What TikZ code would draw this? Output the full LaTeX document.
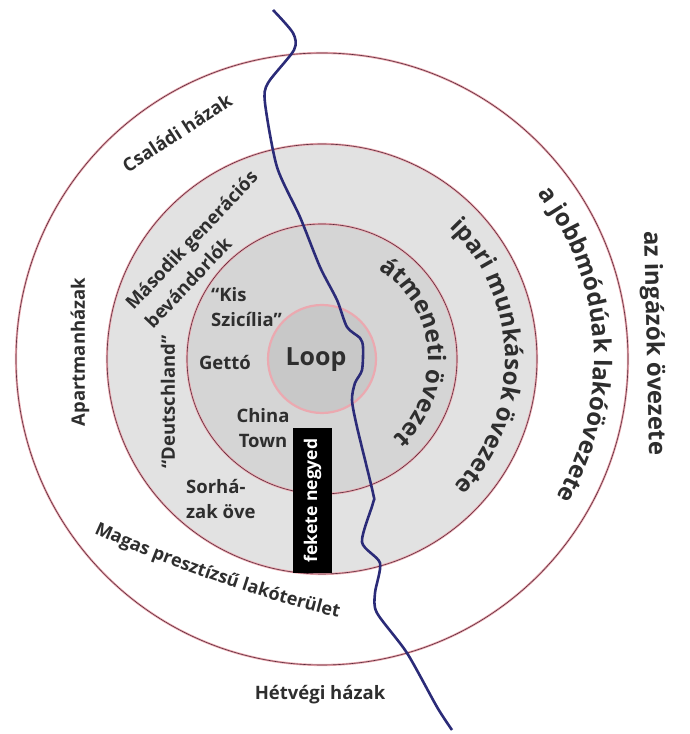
\documentclass[tikz,border=0pt]{standalone}
\usepackage{fontspec}
\setmainfont{Open Sans}
\usetikzlibrary{decorations.text}
\definecolor{ringline}{HTML}{5C2B3B}
\definecolor{ringglow}{HTML}{EBA9B0}
\definecolor{rivercol}{HTML}{2B2B78}
\definecolor{zoneA}{HTML}{E2E2E2}
\definecolor{zoneB}{HTML}{D5D5D5}
\definecolor{zoneC}{HTML}{C8C8C8}
\definecolor{ink}{HTML}{2E2E2E}
\begin{document}
\begin{tikzpicture}[x=1pt,y=1pt,
	ring/.style={draw=ringglow,line width=2.2pt,postaction={draw=ringline,line width=0.6pt}},
	lbl/.style={text=ink,font=\bfseries\fontsize{18.5}{24.5}\selectfont,inner sep=0pt},
	arctxt/.style={decorate,decoration={text along path,text align=center,text color=ink}}]
	\useasboundingbox (0,0) rectangle (689,734);
	\coordinate (c) at (322,375);
	\fill[zoneA] (c) circle (215);
	\fill[zoneB] (c) circle (135);
	\fill[zoneC] (c) circle (54);
	\draw[ring] (c) circle (306);
	\draw[ring] (c) circle (215);
	\draw[ring] (c) circle (135);
	\draw[ringglow,line width=2.2pt] (c) circle (54);
	% river
	\draw[rivercol,line width=2.6pt] plot[smooth,tension=0.45] coordinates {(273,724) (293,701) (294,684) (268,651) (265,631) (277,567) (300,517) (320,467) (337,434) (347,407) (360,396) (363,387) (362,364) (355,351) (352,334) (357,307) (373,241) (373,231) (362,192) (380,171) (375,141) (377,121) (407,81) (437,27) (452,4)};
	% labels
	\node[lbl,font=\bfseries\fontsize{25}{25}\selectfont] (loop) at (316,374) {Loop};
	\node[lbl,rotate=33] (csaladi) at (177,601) {Családi házak};
	\node[lbl,rotate=46.6,align=left,font=\bfseries\fontsize{18.5}{27}\selectfont] (masodik) at (201,485) {Második generációs\\bevándorlók};
	\node[lbl,rotate=90] (apart) at (80,382) {Apartmanházak};
	\node[lbl,rotate=90] (deutsch) at (168,332) {“Deutschland”};
	\node[lbl,align=left,anchor=west] (szicilia) at (211,427) {“Kis\\Szicília”};
	\node[lbl] (getto) at (225,371) {Gettó};
	\node[lbl,align=center] (china) at (263,306) {China\\Town};
	\node[lbl,align=left,anchor=west] (sorhaz) at (186,235) {Sorhá-\\zak öve};
	\node[lbl,fill=black,text=white,rotate=90,minimum width=145pt,minimum height=39pt,font=\bfseries\fontsize{17.5}{17.5}\selectfont] (fekete) at (312.5,233.5) {fekete negyed};
	\node[lbl] (hetvegi) at (320,39) {Hétvégi házak};
	\node[lbl,rotate=-88.7,font=\bfseries\fontsize{24}{24}\selectfont] (ingazok) at (653,391) {az ingázók övezete};
	\path[arctxt,decoration={text={|\bfseries\fontsize{24}{24}\selectfont|átmeneti övezet}}] (c) ++(75:106) arc (75:-65:106);
	\path[arctxt,decoration={text={|\bfseries\fontsize{24}{24}\selectfont|ipari munkások övezete}}] (c) ++(60:183) arc (60:-58:183);
	\path[arctxt,decoration={text={|\bfseries\fontsize{24}{24}\selectfont|a jobbmódúak lakóövezete}}] (c) ++(55:272) arc (55:-48:272);
	\path[arctxt,decoration={text={|\bfseries\fontsize{18}{18}\selectfont|Magas presztízsű lakóterület}}] (68,213) .. controls (145,176) and (255,134) .. (366,110);
\end{tikzpicture}
\end{document}
